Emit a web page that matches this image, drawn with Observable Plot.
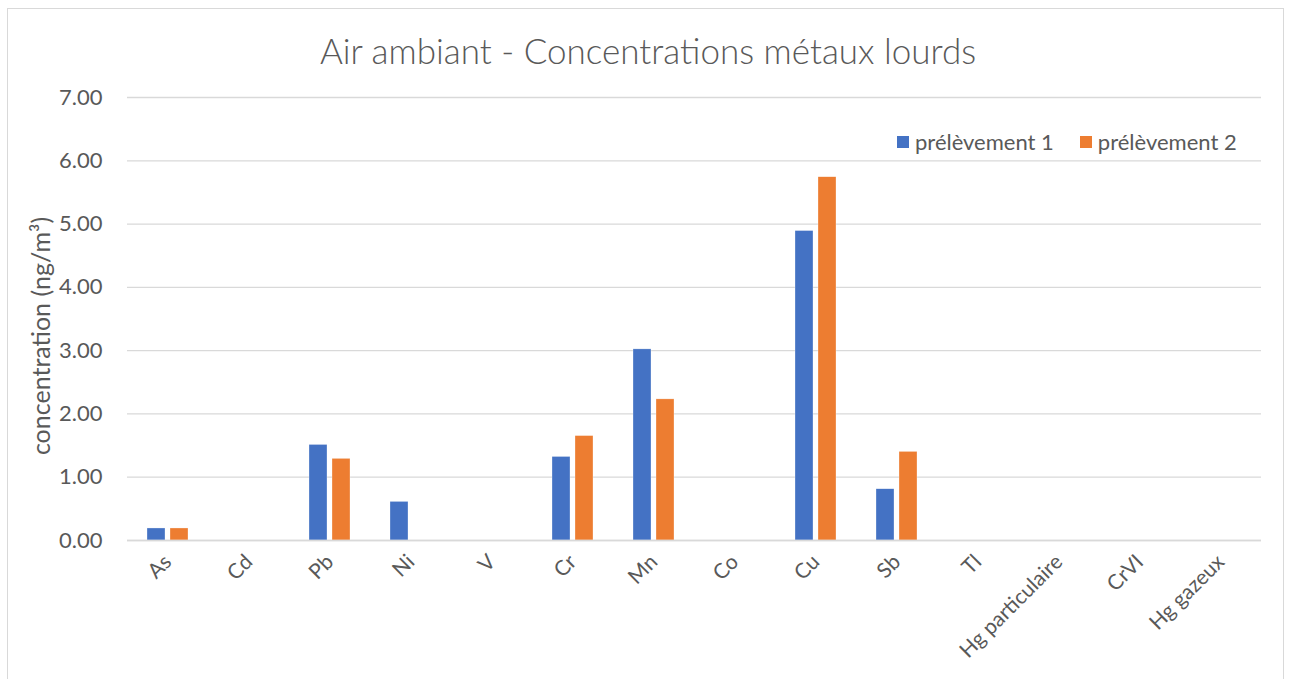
<!DOCTYPE html>
<html>
<head>
<meta charset="utf-8">
<script src="https://cdn.jsdelivr.net/npm/d3@7"></script>
<script src="https://cdn.jsdelivr.net/npm/@observablehq/plot@0.6"></script>
<style>
  body { margin: 0; background: #fff; }
  #wrap { position: relative; width: 1289px; height: 679px; overflow: hidden; font-family: Lato, "Open Sans", sans-serif; color: #595959; }
  #frame { position: absolute; left: 7px; top: 8px; width: 1277px; height: 700px; border: 1px solid #d9d9d9; box-sizing: border-box; }
  #title { position: absolute; left: 0; width: 1296px; top: 29px; text-align: center; font-size: 35px; font-weight: 300; color: #595959; line-height: 1.2; }
  #legend { position: absolute; left: 897px; top: 128px; display: flex; gap: 26px; font-size: 22px; color: #595959; }
  #legend .item { display: flex; align-items: center; gap: 6px; }
  #legend .sw { width: 12px; height: 12px; display: inline-block; }
  #ylabel { position: absolute; left: 40px; top: 336px; transform: translate(-50%, -50%) rotate(-90deg); white-space: nowrap; font-size: 25px; color: #595959; }
  #chart { position: absolute; left: 0; top: 0; }
</style>
</head>
<body>
<div id="wrap">
  <div id="frame"></div>
  <div id="chart"></div>
  <div id="title"></div>
  <div id="legend"></div>
  <div id="ylabel"></div>
</div>
<script>
const title = "Air ambiant - Concentrations métaux lourds";
const yLabel = "concentration (ng/m³)";
const metals = ["As", "Cd", "Pb", "Ni", "V", "Cr", "Mn", "Co", "Cu", "Sb", "Tl", "Hg particulaire", "CrVI", "Hg gazeux"];
const series = ["prélèvement 1", "prélèvement 2"];
const colors = ["#4472C4", "#ED7D31"];
const values1 = [0.19, 0, 1.51, 0.61, 0, 1.32, 3.02, 0, 4.89, 0.81, 0, 0, 0, 0];
const values2 = [0.19, 0, 1.29, 0, 0, 1.65, 2.23, 0, 5.74, 1.40, 0, 0, 0, 0];
const yTicks = [0, 1, 2, 3, 4, 5, 6, 7];

const data = [];
metals.forEach((m, i) => {
  data.push({metal: m, series: series[0], value: values1[i]});
  data.push({metal: m, series: series[1], value: values2[i]});
});

document.getElementById("title").textContent = title;
document.getElementById("ylabel").textContent = yLabel;
const legend = document.getElementById("legend");
series.forEach((s, i) => {
  const it = document.createElement("div");
  it.className = "item";
  const sw = document.createElement("span");
  sw.className = "sw";
  sw.style.background = colors[i];
  const t = document.createElement("span");
  t.textContent = s;
  it.appendChild(sw); it.appendChild(t);
  legend.appendChild(it);
});

const chart = Plot.plot({
  width: 1289,
  height: 679,
  marginLeft: 124,
  marginRight: 26,
  marginTop: 97,
  marginBottom: 139,
  style: {fontFamily: "Lato, 'Open Sans', sans-serif", color: "#595959", background: "transparent"},
  fx: {domain: metals, padding: 0, label: null},
  x: {domain: series, paddingInner: 0.21, paddingOuter: 0.8, axis: null},
  y: {domain: [0, 7], axis: null},
  color: {domain: series, range: colors},
  marks: [
    Plot.gridY(yTicks, {stroke: "#d9d9d9", strokeOpacity: 1, strokeWidth: 1.3}),
    Plot.barY(data, {fx: "metal", x: "series", y: "value", fill: "series", stroke: "white", strokeWidth: 0.5, strokeOpacity: 0.6}),
    Plot.ruleY([0], {stroke: "#d9d9d9", strokeWidth: 1.5}),
    Plot.axisY(yTicks, {tickSize: 0, tickPadding: 25, tickFormat: d3.format(".2f"), fontSize: 22, fill: "#595959", label: null}),
    Plot.axisFx({anchor: "bottom", tickSize: 0, tickRotate: -45, tickPadding: 18, fontSize: 21, fill: "#595959", label: null})
  ]
});
document.getElementById("chart").appendChild(chart);
</script>
</body>
</html>
